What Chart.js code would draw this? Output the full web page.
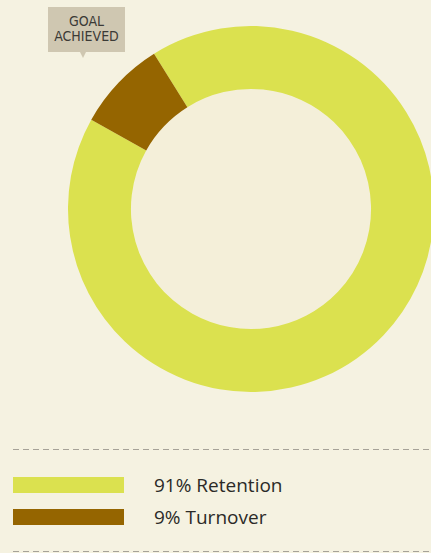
<!DOCTYPE html>
<html>
<head>
<meta charset="utf-8">
<script src="https://cdn.jsdelivr.net/npm/chart.js@4/dist/chart.umd.min.js"></script>
<style>
  html, body { margin: 0; padding: 0; }
  body { width: 431px; height: 553px; overflow: hidden; background: #f5f2e1; position: relative; font-family: "Open Sans", "Noto Sans", sans-serif; }
  #donut-wrap { position: absolute; left: 68px; top: 26px; width: 366px; height: 366px; }
  .badge { position: absolute; left: 48px; top: 7px; width: 77px; height: 45px; background: #cfc7b1; color: #3b3a36;
    font-family: "Liberation Sans Narrow", "DejaVu Sans Condensed", sans-serif; font-size: 14px; line-height: 15px;
    text-align: center; box-sizing: border-box; padding-top: 7px; }
  .badge:after { content: ""; position: absolute; left: 32px; top: 45px; border-left: 3px solid transparent; border-right: 3px solid transparent; border-top: 6px solid #cfc7b1; }
  .rule { position: absolute; left: 13px; right: 0; height: 1px;
    background: repeating-linear-gradient(to right, #a6a298 0 6px, transparent 6px 10px); }
  .legend { position: absolute; left: 13px; top: 469px; }
  .legend-row { display: flex; align-items: center; height: 32px; }
  .swatch { width: 111px; height: 16px; margin-right: 30px; }
  .legend-row span { font-size: 19px; color: #2b2a27; }
</style>
</head>
<body>
<div id="donut-wrap"><canvas id="donut"></canvas></div>
<div class="badge">GOAL<br>ACHIEVED</div>
<div class="rule" style="top:449px"></div>
<div class="legend" id="legend"></div>
<div class="rule" style="top:551px"></div>
<script>
const categories = ['Retention', 'Turnover'];
const legendLabels = ['91% Retention', '9% Turnover'];
const values = [92, 8];
const colors = ['#dbe14f', '#956500'];

const innerFill = {
  id: 'innerFill',
  beforeDatasetsDraw(chart) {
    const arc = chart.getDatasetMeta(0).data[0];
    if (!arc) return;
    const ctx = chart.ctx;
    ctx.save();
    ctx.beginPath();
    ctx.arc(arc.x, arc.y, arc.innerRadius, 0, Math.PI * 2);
    ctx.fillStyle = '#f4efd9';
    ctx.fill();
    ctx.restore();
  }
};

new Chart(document.getElementById('donut'), {
  type: 'doughnut',
  data: {
    labels: categories,
    datasets: [{
      data: values,
      backgroundColor: colors,
      borderWidth: 0
    }]
  },
  options: {
    responsive: true,
    maintainAspectRatio: false,
    animation: false,
    cutout: '65.6%',
    rotation: -32,
    layout: { padding: 0 },
    plugins: { legend: { display: false }, tooltip: { enabled: false } }
  },
  plugins: [innerFill]
});

const legend = document.getElementById('legend');
legendLabels.forEach((label, i) => {
  const row = document.createElement('div');
  row.className = 'legend-row';
  row.innerHTML = `<div class="swatch" style="background:${colors[i]}"></div><span>${label}</span>`;
  legend.appendChild(row);
});
</script>
</body>
</html>
